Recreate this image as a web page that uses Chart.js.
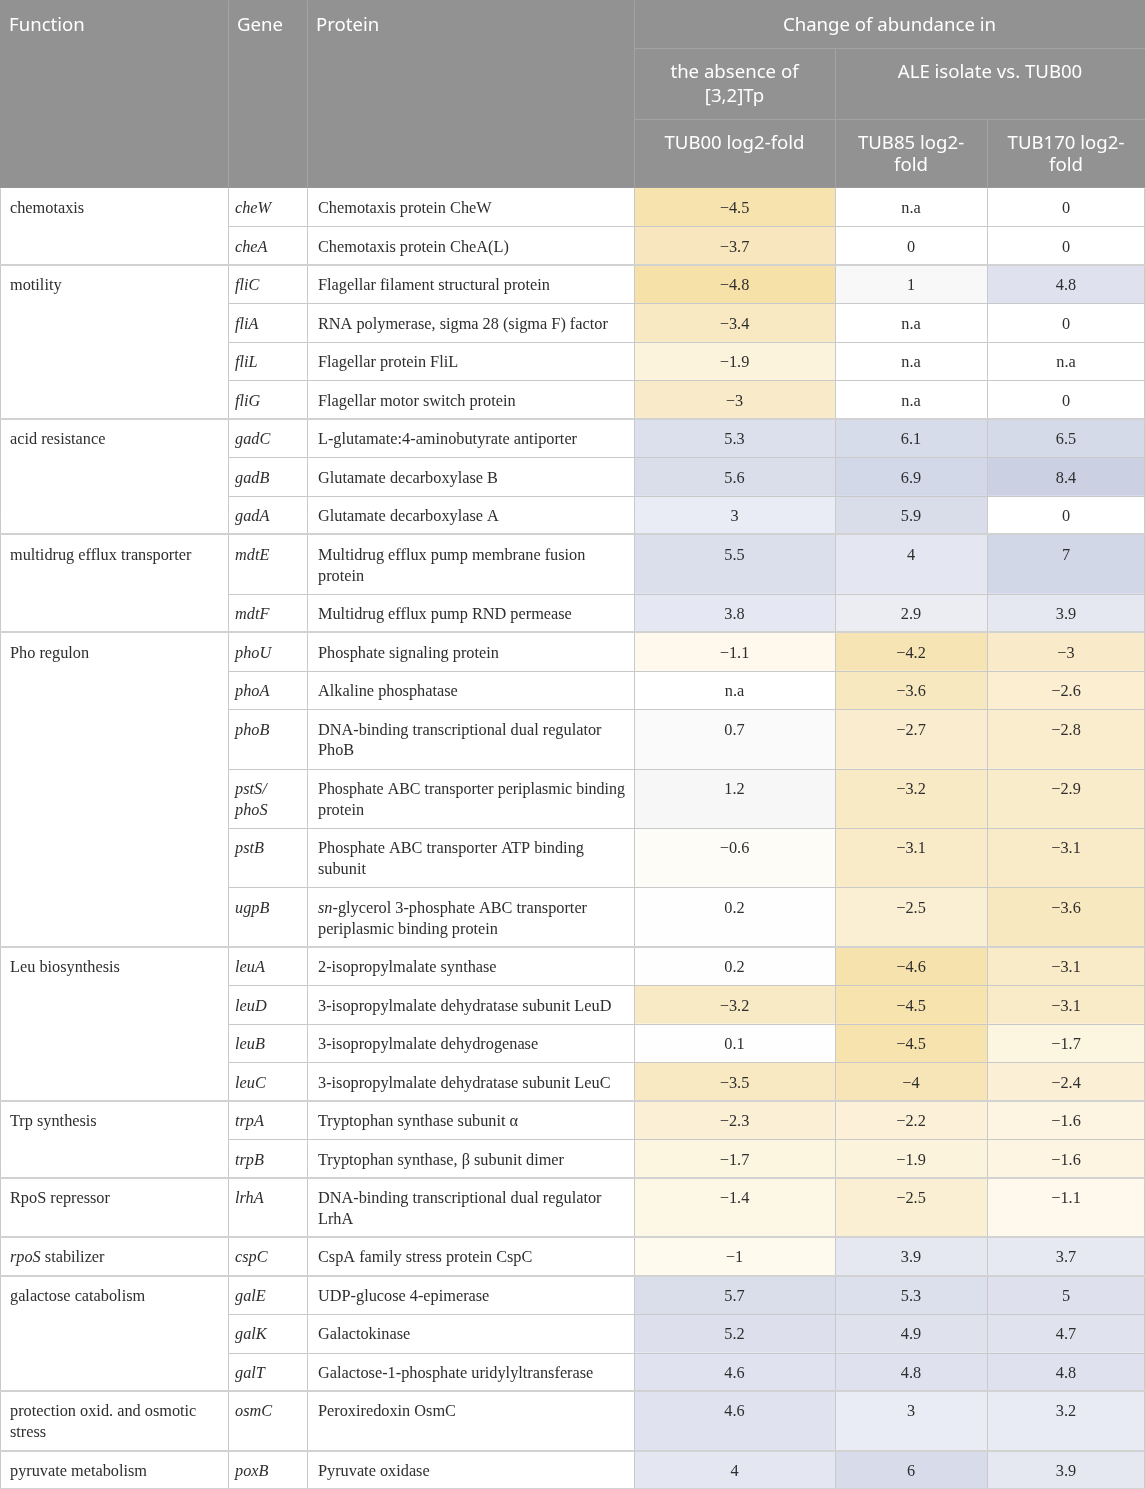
<!DOCTYPE html>
<html lang="en">
<head>
  <meta charset="UTF-8">
  <title>Change of abundance</title>
  <script src="https://cdn.jsdelivr.net/npm/chart.js@4.4.0/dist/chart.umd.min.js"></script>
  <style>
    html, body { margin: 0; padding: 0; background: #fff; }
    #wrap { position: relative; width: 1145px; height: 1489px; }
  </style>
</head>
<body>
<div id="wrap"><canvas id="table-chart"></canvas></div>
<script>
  // column headings
  var headLabels = ['Function', 'Gene', 'Protein'];
  var groupHead = 'Change of abundance in';
  var subHeads = ['the absence of\n[3,2]Tp', 'ALE isolate vs. TUB00'];
  var valueHeads = ['TUB00 log2-fold', 'TUB85 log2-\nfold', 'TUB170 log2-\nfold'];

  // function groups (name, number of genes)
  var groupNames = ['chemotaxis', 'motility', 'acid resistance', 'multidrug efflux transporter', 'Pho regulon',
    'Leu biosynthesis', 'Trp synthesis', 'RpoS repressor', '_rpoS_ stabilizer', 'galactose catabolism',
    'protection oxid. and osmotic\nstress', 'pyruvate metabolism'];
  var groupSizes = [2, 4, 3, 2, 6, 4, 2, 1, 1, 3, 1, 1];

  var genes = ['cheW', 'cheA', 'fliC', 'fliA', 'fliL', 'fliG', 'gadC', 'gadB', 'gadA', 'mdtE', 'mdtF',
    'phoU', 'phoA', 'phoB', 'pstS/\nphoS', 'pstB', 'ugpB', 'leuA', 'leuD', 'leuB', 'leuC', 'trpA', 'trpB',
    'lrhA', 'cspC', 'galE', 'galK', 'galT', 'osmC', 'poxB'];

  var proteins = [
    'Chemotaxis protein CheW',
    'Chemotaxis protein CheA(L)',
    'Flagellar filament structural protein',
    'RNA polymerase, sigma 28 (sigma F) factor',
    'Flagellar protein FliL',
    'Flagellar motor switch protein',
    'L-glutamate:4-aminobutyrate antiporter',
    'Glutamate decarboxylase B',
    'Glutamate decarboxylase A',
    'Multidrug efflux pump membrane fusion\nprotein',
    'Multidrug efflux pump RND permease',
    'Phosphate signaling protein',
    'Alkaline phosphatase',
    'DNA-binding transcriptional dual regulator\nPhoB',
    'Phosphate ABC transporter periplasmic binding\nprotein',
    'Phosphate ABC transporter ATP binding\nsubunit',
    '_sn_-glycerol 3-phosphate ABC transporter\nperiplasmic binding protein',
    '2-isopropylmalate synthase',
    '3-isopropylmalate dehydratase subunit LeuD',
    '3-isopropylmalate dehydrogenase',
    '3-isopropylmalate dehydratase subunit LeuC',
    'Tryptophan synthase subunit \u03b1',
    'Tryptophan synthase, \u03b2 subunit dimer',
    'DNA-binding transcriptional dual regulator\nLrhA',
    'CspA family stress protein CspC',
    'UDP-glucose 4-epimerase',
    'Galactokinase',
    'Galactose-1-phosphate uridylyltransferase',
    'Peroxiredoxin OsmC',
    'Pyruvate oxidase'
  ];

  // log2-fold values, null = n.a
  var tub00 = [-4.5, -3.7, -4.8, -3.4, -1.9, -3, 5.3, 5.6, 3, 5.5, 3.8, -1.1, null, 0.7, 1.2, -0.6, 0.2,
    0.2, -3.2, 0.1, -3.5, -2.3, -1.7, -1.4, -1, 5.7, 5.2, 4.6, 4.6, 4];
  var tub85 = [null, 0, 1, null, null, null, 6.1, 6.9, 5.9, 4, 2.9, -4.2, -3.6, -2.7, -3.2, -3.1, -2.5,
    -4.6, -4.5, -4.5, -4, -2.2, -1.9, -2.5, 3.9, 5.3, 4.9, 4.8, 3, 6];
  var tub170 = [0, 0, 4.8, 0, null, 0, 6.5, 8.4, 0, 7, 3.9, -3, -2.6, -2.8, -2.9, -3.1, -3.6, -3.1,
    -3.1, -1.7, -2.4, -1.6, -1.6, -1.1, 3.7, 5, 4.7, 4.8, 3.2, 3.9];
  var valueCols = [tub00, tub85, tub170];

  // layout
  var COL_EDGES = [0, 228, 307, 634, 835, 987, 1145];
  var HEADER_H = 188;
  var ROW_BASE = 38.5;
  var LINE_H = 20.9;
  var TEXT_OFF = 21;
  var BODY_FONT = '16.3px "Liberation Serif", "DejaVu Serif", serif';
  var BODY_ITALIC = 'italic 16.3px "Liberation Serif", "DejaVu Serif", serif';
  var HEAD_FONT = '18.6px "Noto Sans", "Open Sans", sans-serif';

  function lineCount(s) { return s.split('\n').length; }

  // row geometry from the number of text lines in each row
  var groupOfRow = [];
  groupSizes.forEach(function (n, g) { for (var k = 0; k < n; k++) groupOfRow.push(g); });
  var rowTops = [];
  var rowHeights = [];
  var yAcc = HEADER_H;
  genes.forEach(function (g, i) {
    var n = Math.max(lineCount(g), lineCount(proteins[i]));
    if (groupSizes[groupOfRow[i]] === 1) n = Math.max(n, lineCount(groupNames[groupOfRow[i]]));
    var h = ROW_BASE + (n - 1) * LINE_H;
    rowTops.push(yAcc);
    rowHeights.push(h);
    yAcc += h;
  });
  var TABLE_H = yAcc;
  var TABLE_W = COL_EDGES[COL_EDGES.length - 1];

  var posStops = [[0, [255, 255, 255]], [0.3, [253, 253, 253]], [1.2, [247, 247, 248]], [2.9, [236, 237, 243]],
    [3, [233, 236, 245]], [4, [228, 231, 241]], [5, [222, 225, 237]], [6, [216, 220, 234]], [7, [210, 215, 232]], [8.4, [203, 208, 227]]];
  var negStops = [[0, [255, 255, 255]], [0.6, [254, 252, 246]], [1, [254, 250, 238]], [1.9, [252, 243, 220]],
    [2.5, [251, 239, 211]], [3, [249, 235, 201]], [3.6, [248, 232, 192]], [4.2, [247, 228, 180]], [4.8, [246, 225, 168]]];

  function cellColor(v) {
    if (v === null) return '#ffffff';
    var stops = v < 0 ? negStops : posStops;
    var a = Math.abs(v);
    for (var i = 1; i < stops.length; i++) {
      if (a <= stops[i][0] || i === stops.length - 1) {
        var t = Math.min(1, (a - stops[i - 1][0]) / (stops[i][0] - stops[i - 1][0]));
        var c0 = stops[i - 1][1], c1 = stops[i][1];
        return 'rgb(' + c0.map(function (c, k) { return Math.round(c + (c1[k] - c) * t); }).join(',') + ')';
      }
    }
  }

  function fmt(v) {
    if (v === null) return 'n.a';
    return String(v).replace('-', '\u2212');
  }

  // draws a line of text where _..._ marks italic parts
  function richText(ctx, s, x, y, italicAll, maxW) {
    var parts = s.split('_');
    parts.forEach(function (p, k) {
      var it = italicAll ? true : (k % 2 === 1);
      ctx.font = it ? BODY_ITALIC : BODY_FONT;
      var w = ctx.measureText(p).width;
      if (parts.length === 1 && maxW && w > maxW) {
        ctx.fillText(p, x, y, maxW);
        w = maxW;
      } else {
        ctx.fillText(p, x, y);
      }
      x += w;
    });
  }

  var cellPoints = [];
  valueCols.forEach(function (col, c) {
    col.forEach(function (v, r) {
      cellPoints.push({ x: (COL_EDGES[c + 3] + COL_EDGES[c + 4]) / 2, y: rowTops[r] + rowHeights[r] / 2, v: v });
    });
  });

  var tablePlugin = {
    id: 'tablePlugin',
    beforeDatasetsDraw: function (chart) {
      var ctx = chart.ctx;
      var sx = chart.scales.x, sy = chart.scales.y;
      var X = function (v) { return sx.getPixelForValue(v); };
      var Y = function (v) { return sy.getPixelForValue(v); };
      var cx = COL_EDGES.map(X);

      ctx.save();
      // header background
      ctx.fillStyle = '#929292';
      ctx.fillRect(X(0), Y(0), X(TABLE_W) - X(0), Y(HEADER_H) - Y(0));

      // value cells
      valueCols.forEach(function (col, c) {
        col.forEach(function (v, r) {
          ctx.fillStyle = cellColor(v);
          ctx.fillRect(cx[c + 3], Y(rowTops[r]), cx[c + 4] - cx[c + 3], Y(rowTops[r] + rowHeights[r]) - Y(rowTops[r]));
        });
      });

      // header lines
      ctx.strokeStyle = '#a3a3a3';
      ctx.lineWidth = 1;
      function seg(x0, y0, x1, y1) {
        ctx.beginPath();
        ctx.moveTo(Math.round(x0) + 0.5, Math.round(y0) + 0.5);
        ctx.lineTo(Math.round(x1) + 0.5, Math.round(y1) + 0.5);
        ctx.stroke();
      }
      seg(cx[1], Y(0), cx[1], Y(HEADER_H));
      seg(cx[2], Y(0), cx[2], Y(HEADER_H));
      seg(cx[3], Y(0), cx[3], Y(HEADER_H));
      seg(cx[3], Y(48), cx[6], Y(48));
      seg(cx[4], Y(48), cx[4], Y(HEADER_H));
      seg(cx[3], Y(119), cx[6], Y(119));
      seg(cx[5], Y(119), cx[5], Y(HEADER_H));

      // body lines
      ctx.strokeStyle = '#c9c9c9';
      for (var i = 1; i < COL_EDGES.length - 1; i++) seg(cx[i], Y(HEADER_H), cx[i], Y(TABLE_H));
      seg(X(0), Y(HEADER_H), X(0), Y(TABLE_H));
      seg(cx[6] - 1, Y(HEADER_H), cx[6] - 1, Y(TABLE_H));
      rowTops.forEach(function (t, r) {
        var bottom = t + rowHeights[r];
        var lastInGroup = r === rowTops.length - 1 || groupOfRow[r + 1] !== groupOfRow[r];
        if (lastInGroup) {
          ctx.lineWidth = 2;
          ctx.strokeStyle = '#d2d2d2';
          ctx.beginPath();
          ctx.moveTo(X(0), Math.round(Y(bottom)));
          ctx.lineTo(X(TABLE_W), Math.round(Y(bottom)));
          ctx.stroke();
          ctx.lineWidth = 1;
          ctx.strokeStyle = '#c9c9c9';
        } else {
          seg(cx[1], Y(bottom), cx[6], Y(bottom));
        }
      });

      // header text
      ctx.fillStyle = '#ffffff';
      ctx.font = HEAD_FONT;
      ctx.textBaseline = 'middle';
      ctx.textAlign = 'left';
      headLabels.forEach(function (s, k) { ctx.fillText(s, cx[k] + 9, Y(26)); });
      ctx.textAlign = 'center';
      ctx.fillText(groupHead, (cx[3] + cx[6]) / 2, Y(26));
      subHeads[0].split('\n').forEach(function (s, k) { ctx.fillText(s, (cx[3] + cx[4]) / 2, Y(73 + k * 23.5)); });
      subHeads[1].split('\n').forEach(function (s, k) { ctx.fillText(s, (cx[4] + cx[6]) / 2, Y(73 + k * 23.5)); });
      valueHeads.forEach(function (h, c) {
        h.split('\n').forEach(function (s, k) { ctx.fillText(s, (cx[c + 3] + cx[c + 4]) / 2, Y(144 + k * 22)); });
      });

      // body text
      ctx.fillStyle = '#2e2e2e';
      ctx.textAlign = 'left';
      var r0 = 0;
      groupNames.forEach(function (name, g) {
        name.split('\n').forEach(function (s, k) { richText(ctx, s, cx[0] + 10, Y(rowTops[r0] + TEXT_OFF + k * LINE_H), false); });
        r0 += groupSizes[g];
      });
      genes.forEach(function (gname, r) {
        gname.split('\n').forEach(function (s, k) { richText(ctx, s, cx[1] + 7, Y(rowTops[r] + TEXT_OFF + k * LINE_H), true); });
        proteins[r].split('\n').forEach(function (s, k) {
          richText(ctx, s, cx[2] + 11, Y(rowTops[r] + TEXT_OFF + k * LINE_H), false, cx[3] - cx[2] - 20);
        });
      });
      ctx.textAlign = 'center';
      ctx.font = BODY_FONT;
      cellPoints.forEach(function (p, i) {
        var r = i % genes.length;
        ctx.fillText(fmt(p.v), X(p.x), Y(rowTops[r] + TEXT_OFF));
      });
      ctx.restore();
    }
  };

  var ctx = document.getElementById('table-chart').getContext('2d');
  var tableChart = new Chart(ctx, {
    type: 'scatter',
    data: {
      datasets: [{
        data: cellPoints,
        pointRadius: 0,
        pointHoverRadius: 0
      }]
    },
    options: {
      responsive: true,
      maintainAspectRatio: false,
      animation: false,
      layout: { padding: 0 },
      plugins: { legend: { display: false }, tooltip: { enabled: false } },
      scales: {
        x: { type: 'linear', min: 0, max: TABLE_W, display: false },
        y: { type: 'linear', min: 0, max: TABLE_H, reverse: true, display: false }
      }
    },
    plugins: [tablePlugin]
  });
</script>
</body>
</html>
